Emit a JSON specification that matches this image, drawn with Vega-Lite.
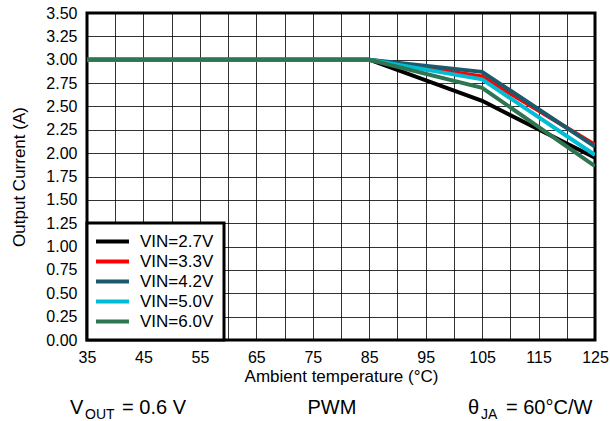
{
  "$schema": "https://vega.github.io/schema/vega-lite/v6.json",
  "width": 508,
  "height": 327,
  "autosize": {"type": "none"},
  "padding": {"left": 87, "top": 13, "right": 15, "bottom": 81},
  "background": "#ffffff",
  "config": {
    "font": "Liberation Sans",
    "view": {"stroke": "#000000", "strokeWidth": 3},
    "axis": {
      "labelFont": "Liberation Sans",
      "labelFontSize": 16,
      "labelColor": "#000000",
      "titleFont": "Liberation Sans",
      "titleFontSize": 17,
      "titleFontWeight": "normal",
      "titleColor": "#000000",
      "ticks": false,
      "domain": false,
      "grid": true,
      "gridColor": "#000000",
      "gridOpacity": 0.8,
      "gridWidth": 1,
      "labelOverlap": false,
      "labelBound": false,
      "labelFlush": false
    },
    "text": {"font": "Liberation Sans", "color": "#000000"}
  },
  "layer": [
    {
      "data": {
        "values": [
          {"series": "VIN=2.7V", "temp": 35, "current": 3.0},
          {"series": "VIN=2.7V", "temp": 85, "current": 3.0},
          {"series": "VIN=2.7V", "temp": 105, "current": 2.56},
          {"series": "VIN=2.7V", "temp": 125, "current": 1.95},
          {"series": "VIN=3.3V", "temp": 35, "current": 3.0},
          {"series": "VIN=3.3V", "temp": 85, "current": 3.0},
          {"series": "VIN=3.3V", "temp": 105, "current": 2.82},
          {"series": "VIN=3.3V", "temp": 125, "current": 2.09},
          {"series": "VIN=4.2V", "temp": 35, "current": 3.0},
          {"series": "VIN=4.2V", "temp": 85, "current": 3.0},
          {"series": "VIN=4.2V", "temp": 105, "current": 2.87},
          {"series": "VIN=4.2V", "temp": 125, "current": 2.07},
          {"series": "VIN=5.0V", "temp": 35, "current": 3.0},
          {"series": "VIN=5.0V", "temp": 85, "current": 3.0},
          {"series": "VIN=5.0V", "temp": 105, "current": 2.79},
          {"series": "VIN=5.0V", "temp": 125, "current": 1.98},
          {"series": "VIN=6.0V", "temp": 35, "current": 3.0},
          {"series": "VIN=6.0V", "temp": 85, "current": 3.0},
          {"series": "VIN=6.0V", "temp": 105, "current": 2.70},
          {"series": "VIN=6.0V", "temp": 125, "current": 1.86}
        ]
      },
      "mark": {"type": "line", "strokeWidth": 4, "clip": true},
      "encoding": {
        "x": {
          "field": "temp",
          "type": "quantitative",
          "scale": {"domain": [35, 125], "nice": false, "zero": false},
          "axis": {
            "values": [35, 40, 45, 50, 55, 60, 65, 70, 75, 80, 85, 90, 95, 100, 105, 110, 115, 120, 125],
            "tickCount": 40,
            "labelExpr": "(datum.value - 35) % 10 === 0 ? datum.label : ''",
            "title": "Ambient temperature (°C)",
            "labelPadding": 9,
            "titlePadding": 3
          }
        },
        "y": {
          "field": "current",
          "type": "quantitative",
          "scale": {"domain": [0, 3.5], "nice": false},
          "axis": {
            "values": [0, 0.25, 0.5, 0.75, 1, 1.25, 1.5, 1.75, 2, 2.25, 2.5, 2.75, 3, 3.25, 3.5],
            "tickCount": 40,
            "format": ".2f",
            "title": "Output Current (A)",
            "labelPadding": 10,
            "titlePadding": 17
          }
        },
        "color": {
          "field": "series",
          "type": "nominal",
          "scale": {
            "domain": ["VIN=2.7V", "VIN=3.3V", "VIN=4.2V", "VIN=5.0V", "VIN=6.0V"],
            "range": ["#000000", "#ff0000", "#1a5a6c", "#00bcd4", "#2e7552"]
          },
          "legend": {
            "orient": "bottom-left",
            "offset": 0,
            "title": null,
            "padding": 10,
            "strokeColor": "#000000",
            "fillColor": "#ffffff",
            "cornerRadius": 0,
            "symbolType": "M-1,0H5",
            "symbolSize": 121,
            "symbolStrokeWidth": 4,
            "symbolOffset": -4,
            "labelOffset": 30,
            "labelFont": "Liberation Sans",
            "labelFontSize": 17,
            "labelColor": "#000000",
            "labelLimit": 200,
            "rowPadding": 2,
            "encode": {
              "legend": {"update": {"strokeWidth": {"value": 3}, "stroke": {"value": "#000000"}, "fill": {"value": "#ffffff"}}}
            }
          }
        }
      }
    },
    {
      "data": {"values": [{}]},
      "mark": {"type": "text", "text": "V", "fontSize": 20, "align": "left", "baseline": "alphabetic"},
      "encoding": {"x": {"datum": 32}, "y": {"datum": -0.792}}
    },
    {
      "data": {"values": [{}]},
      "mark": {"type": "text", "text": "OUT", "fontSize": 14, "align": "left", "baseline": "alphabetic", "dx": 15, "dy": 5},
      "encoding": {"x": {"datum": 32}, "y": {"datum": -0.792}}
    },
    {
      "data": {"values": [{}]},
      "mark": {"type": "text", "text": "= 0.6 V", "fontSize": 20, "align": "left", "baseline": "alphabetic", "dx": 52},
      "encoding": {"x": {"datum": 32}, "y": {"datum": -0.792}}
    },
    {
      "data": {"values": [{}]},
      "mark": {"type": "text", "text": "PWM", "fontSize": 20, "align": "center", "baseline": "alphabetic"},
      "encoding": {"x": {"datum": 78.4}, "y": {"datum": -0.792}}
    },
    {
      "data": {"values": [{}]},
      "mark": {"type": "text", "text": "θ", "fontSize": 20, "align": "left", "baseline": "alphabetic"},
      "encoding": {"x": {"datum": 102.5}, "y": {"datum": -0.792}}
    },
    {
      "data": {"values": [{}]},
      "mark": {"type": "text", "text": "JA", "fontSize": 14, "align": "left", "baseline": "alphabetic", "dx": 13, "dy": 5},
      "encoding": {"x": {"datum": 102.5}, "y": {"datum": -0.792}}
    },
    {
      "data": {"values": [{}]},
      "mark": {"type": "text", "text": "= 60°C/W", "fontSize": 20, "align": "left", "baseline": "alphabetic", "dx": 38},
      "encoding": {"x": {"datum": 102.5}, "y": {"datum": -0.792}}
    }
  ]
}
